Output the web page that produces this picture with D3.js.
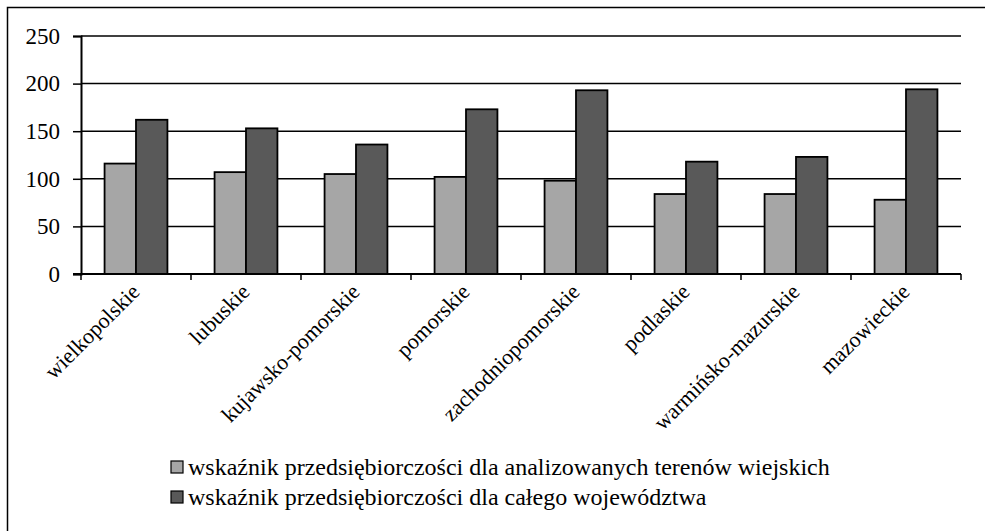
<!DOCTYPE html>
<html>
<head>
<meta charset="utf-8">
<script src="https://cdn.jsdelivr.net/npm/d3@7"></script>
<style>
  body { margin: 0; background: #fff; }
  text { font-family: "Liberation Serif", "Times New Roman", serif; fill: #000; }
</style>
</head>
<body>
<div id="chart"></div>
<script>
// data
var categories = ["wielkopolskie", "lubuskie", "kujawsko-pomorskie", "pomorskie",
    "zachodniopomorskie", "podlaskie", "warmińsko-mazurskie", "mazowieckie"];
var seriesNames = ["wskaźnik przedsiębiorczości dla analizowanych terenów wiejskich",
    "wskaźnik przedsiębiorczości dla całego województwa"];
var ruralValues = [116, 107, 105, 102, 98, 84, 84, 78];
var wholeValues = [162, 153, 136, 173, 193, 118, 123, 194];
var yTicks = [0, 50, 100, 150, 200, 250];
var colors = ["#a6a6a6", "#595959"];

var svgWidth = 985;
var svgHeight = 531;
var margin = { top: 36, left: 81, right: 24, bottom: 257 };
var width = svgWidth - margin.left - margin.right;
var height = svgHeight - margin.top - margin.bottom;

var svg = d3.select("#chart")
    .append("svg")
    .attr("width", svgWidth)
    .attr("height", svgHeight);

// outer frame (runs off the right and bottom of the picture)
svg.append("rect")
    .attr("x", 7.5)
    .attr("y", 7.5)
    .attr("width", 1000)
    .attr("height", 600)
    .attr("fill", "none")
    .attr("stroke", "#000")
    .attr("stroke-width", 1.5);

var chartGroup = svg.append("g")
    .attr("transform", `translate(${margin.left}, ${margin.top})`);

var xScale = d3.scaleBand()
    .domain(categories)
    .range([0, width]);

var xInner = d3.scaleBand()
    .domain([0, 1])
    .range([0, xScale.bandwidth()])
    .paddingOuter(0.75);

var yScale = d3.scaleLinear()
    .domain([0, 250])
    .range([height, 0]);

// gridlines
chartGroup.append("g")
    .selectAll("line")
    .data(yTicks.filter(d => d > 0))
    .enter()
    .append("line")
    .attr("x1", 0)
    .attr("x2", width)
    .attr("y1", d => yScale(d))
    .attr("y2", d => yScale(d))
    .attr("stroke", "#000")
    .attr("stroke-width", 1.5);

// bars
var rows = categories.map((c, i) => ({ cat: c, vals: [ruralValues[i], wholeValues[i]] }));

var groups = chartGroup.selectAll(".grp")
    .data(rows)
    .enter()
    .append("g")
    .attr("transform", d => `translate(${xScale(d.cat)}, 0)`);

groups.selectAll("rect")
    .data(d => d.vals.map((v, k) => ({ k: k, v: v })))
    .enter()
    .append("rect")
    .attr("x", d => xInner(d.k))
    .attr("y", d => yScale(d.v))
    .attr("width", xInner.bandwidth())
    .attr("height", d => height - yScale(d.v))
    .attr("fill", d => colors[d.k])
    .attr("stroke", "#000")
    .attr("stroke-width", 1.8);

// y axis
var yAxis = d3.axisLeft(yScale)
    .tickValues(yTicks)
    .tickSize(8)
    .tickPadding(13);

var yg = chartGroup.append("g").call(yAxis);
yg.select(".domain").attr("stroke", "#000").attr("stroke-width", 2);
yg.selectAll(".tick line").attr("stroke", "#000").attr("stroke-width", 1.5);
yg.selectAll(".tick text")
    .attr("font-size", "23px")
    .attr("fill", "#000");

// x axis with ticks between categories
var xg = chartGroup.append("g")
    .attr("transform", `translate(0, ${height})`);

xg.append("line")
    .attr("x1", -8)
    .attr("x2", width)
    .attr("stroke", "#000")
    .attr("stroke-width", 2);

xg.selectAll(".xt")
    .data(categories.concat(["end"]))
    .enter()
    .append("line")
    .attr("x1", (d, i) => i * xScale.step())
    .attr("x2", (d, i) => i * xScale.step())
    .attr("y1", 0)
    .attr("y2", 6)
    .attr("stroke", "#000")
    .attr("stroke-width", 1.5);

xg.selectAll(".xl")
    .data(categories)
    .enter()
    .append("text")
    .attr("text-anchor", "end")
    .attr("font-size", "22px")
    .attr("transform", d => `translate(${xScale(d) + xScale.bandwidth() / 2 + 5}, 19) rotate(-45)`)
    .text(d => d);

// legend
var legend = svg.append("g")
    .attr("transform", "translate(171, 461)");

var items = legend.selectAll("g")
    .data(seriesNames)
    .enter()
    .append("g")
    .attr("transform", (d, i) => `translate(0, ${i * 30})`);

items.append("rect")
    .attr("width", 12)
    .attr("height", 12)
    .attr("fill", (d, i) => colors[i])
    .attr("stroke", "#000")
    .attr("stroke-width", 1.2);

items.append("text")
    .attr("x", 17)
    .attr("y", 14)
    .attr("font-size", "24px")
    .text(d => d);
</script>
</body>
</html>
